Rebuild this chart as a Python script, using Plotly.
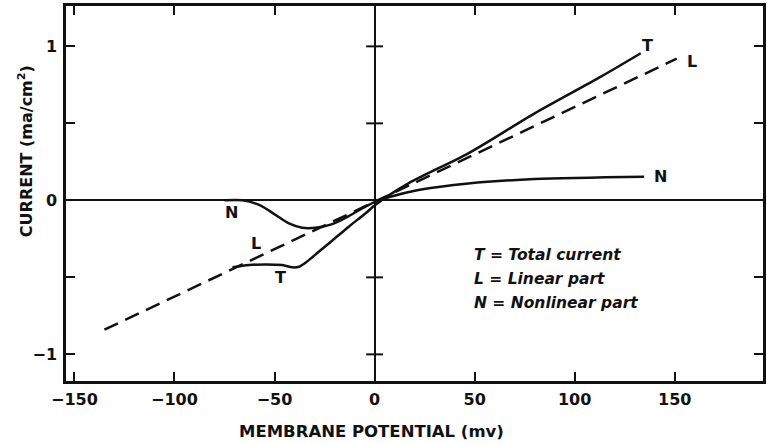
import plotly.graph_objects as go

# ---- data (membrane potential in mV, current in mA/cm^2) ----
linear_x = [-135, 151]
linear_y = [-0.84, 0.92]

total_x = [-71.0, -62.7, -54.4, -46.1, -41.1, -37.8, -34.5, -27.9, -21.2, -12.9, -4.6, 0.3,
           16.9, 46.8, 80.0, 113.1, 133.0]
total_y = [-0.435, -0.42, -0.416, -0.42, -0.435, -0.431, -0.405, -0.334, -0.262, -0.171, -0.085, -0.03,
           0.110, 0.305, 0.565, 0.803, 0.955]

nonlin_x = [-75, -66.0, -57.7, -49.4, -42.8, -36.2, -29.5, -21.2, -12.9, -4.6, 0.3,
            7.0, 21.9, 46.8, 80.0, 134.7]
nonlin_y = [0.0, 0.0, -0.03, -0.095, -0.15, -0.178, -0.178, -0.154, -0.102, -0.041, -0.01,
            0.02, 0.067, 0.11, 0.138, 0.153]

x_ticks = [-150, -100, -50, 0, 50, 100, 150]
x_tick_text = ["\u2212150", "\u2212100", "\u221250", "0", "50", "100", "150"]
y_ticks = [-1, -0.5, 0, 0.5, 1]
y_tick_text = ["\u22121", " ", "0", " ", "1"]

legend_lines = ["T = Total current", "L = Linear part", "N = Nonlinear part"]

FONT = "DejaVu Sans"
BLACK = "#111111"

fig = go.Figure()

fig.add_trace(go.Scatter(x=linear_x, y=linear_y, mode="lines",
                         line=dict(color=BLACK, width=2.5, dash="15px,8px"),
                         hoverinfo="skip", showlegend=False))
fig.add_trace(go.Scatter(x=total_x, y=total_y, mode="lines",
                         line=dict(color=BLACK, width=2.5, shape="spline", smoothing=0.8),
                         hoverinfo="skip", showlegend=False))
fig.add_trace(go.Scatter(x=nonlin_x, y=nonlin_y, mode="lines",
                         line=dict(color=BLACK, width=2.5, shape="spline", smoothing=0.8),
                         hoverinfo="skip", showlegend=False))

# cross ticks on the vertical zero line
cross_y = [v for v in y_ticks if v != 0]
fig.add_trace(go.Scatter(x=[0] * len(cross_y), y=cross_y, mode="markers",
                         marker=dict(symbol="line-ew-open", size=12, color=BLACK,
                                     line=dict(color=BLACK, width=2)),
                         hoverinfo="skip", showlegend=False))

lab_font = dict(family=FONT, size=16, color=BLACK)
curve_labels = [("T", 136.3, 1.008), ("L", 158.4, 0.90), ("N", 142.9, 0.153),
                ("N", -71.3, -0.08), ("L", -59.4, -0.279), ("T", -46.9, -0.503)]
for txt, lx, ly in curve_labels:
    fig.add_annotation(x=lx, y=ly, xref="x", yref="y", text="<b>" + txt + "</b>",
                       showarrow=False, font=lab_font, xanchor="center", yanchor="middle")

leg_font = dict(family=FONT, size=15.5, color=BLACK)
for i, t in enumerate(legend_lines):
    fig.add_annotation(x=(474 - 66) / 700, y=(381 - (255 + 24 * i)) / 375,
                       xref="paper", yref="paper",
                       text="<b><i>" + t + "</i></b>", showarrow=False,
                       font=leg_font, xanchor="left", yanchor="middle")

# axis titles
fig.add_annotation(x=(25 - 66) / 700, y=(381 - 151) / 375, xref="paper", yref="paper",
                   text="<b>CURRENT (ma/cm<sup>2</sup>)</b>", showarrow=False, textangle=-90,
                   font=dict(family=FONT, size=16, color=BLACK),
                   xanchor="center", yanchor="middle")
fig.add_annotation(x=(372.6 - 66) / 700, y=(381 - 431) / 375, xref="paper", yref="paper",
                   text="<b>MEMBRANE POTENTIAL (mv)</b>", showarrow=False,
                   font=dict(family=FONT, size=16.5, color=BLACK),
                   xanchor="center", yanchor="middle")

axis_common = dict(showline=True, linecolor=BLACK, linewidth=2.5, mirror="ticks",
                   ticks="inside", ticklen=9, tickwidth=2, tickcolor=BLACK,
                   showgrid=False, zeroline=True, zerolinecolor=BLACK, zerolinewidth=2,
                   tickfont=dict(family=FONT, size=16, color=BLACK, weight="bold"))

fig.update_layout(
    width=767, height=444,
    margin=dict(l=66, r=1, t=6, b=63),
    paper_bgcolor="white", plot_bgcolor="white",
    xaxis=dict(range=[-154.2, 194.1], tickvals=x_ticks, ticktext=x_tick_text,
               ticklabelstandoff=2, **axis_common),
    yaxis=dict(range=[-1.173, 1.262], tickvals=y_ticks, ticktext=y_tick_text,
               ticklabelstandoff=3, **axis_common),
    showlegend=False,
)

fig.write_html("out.html")
